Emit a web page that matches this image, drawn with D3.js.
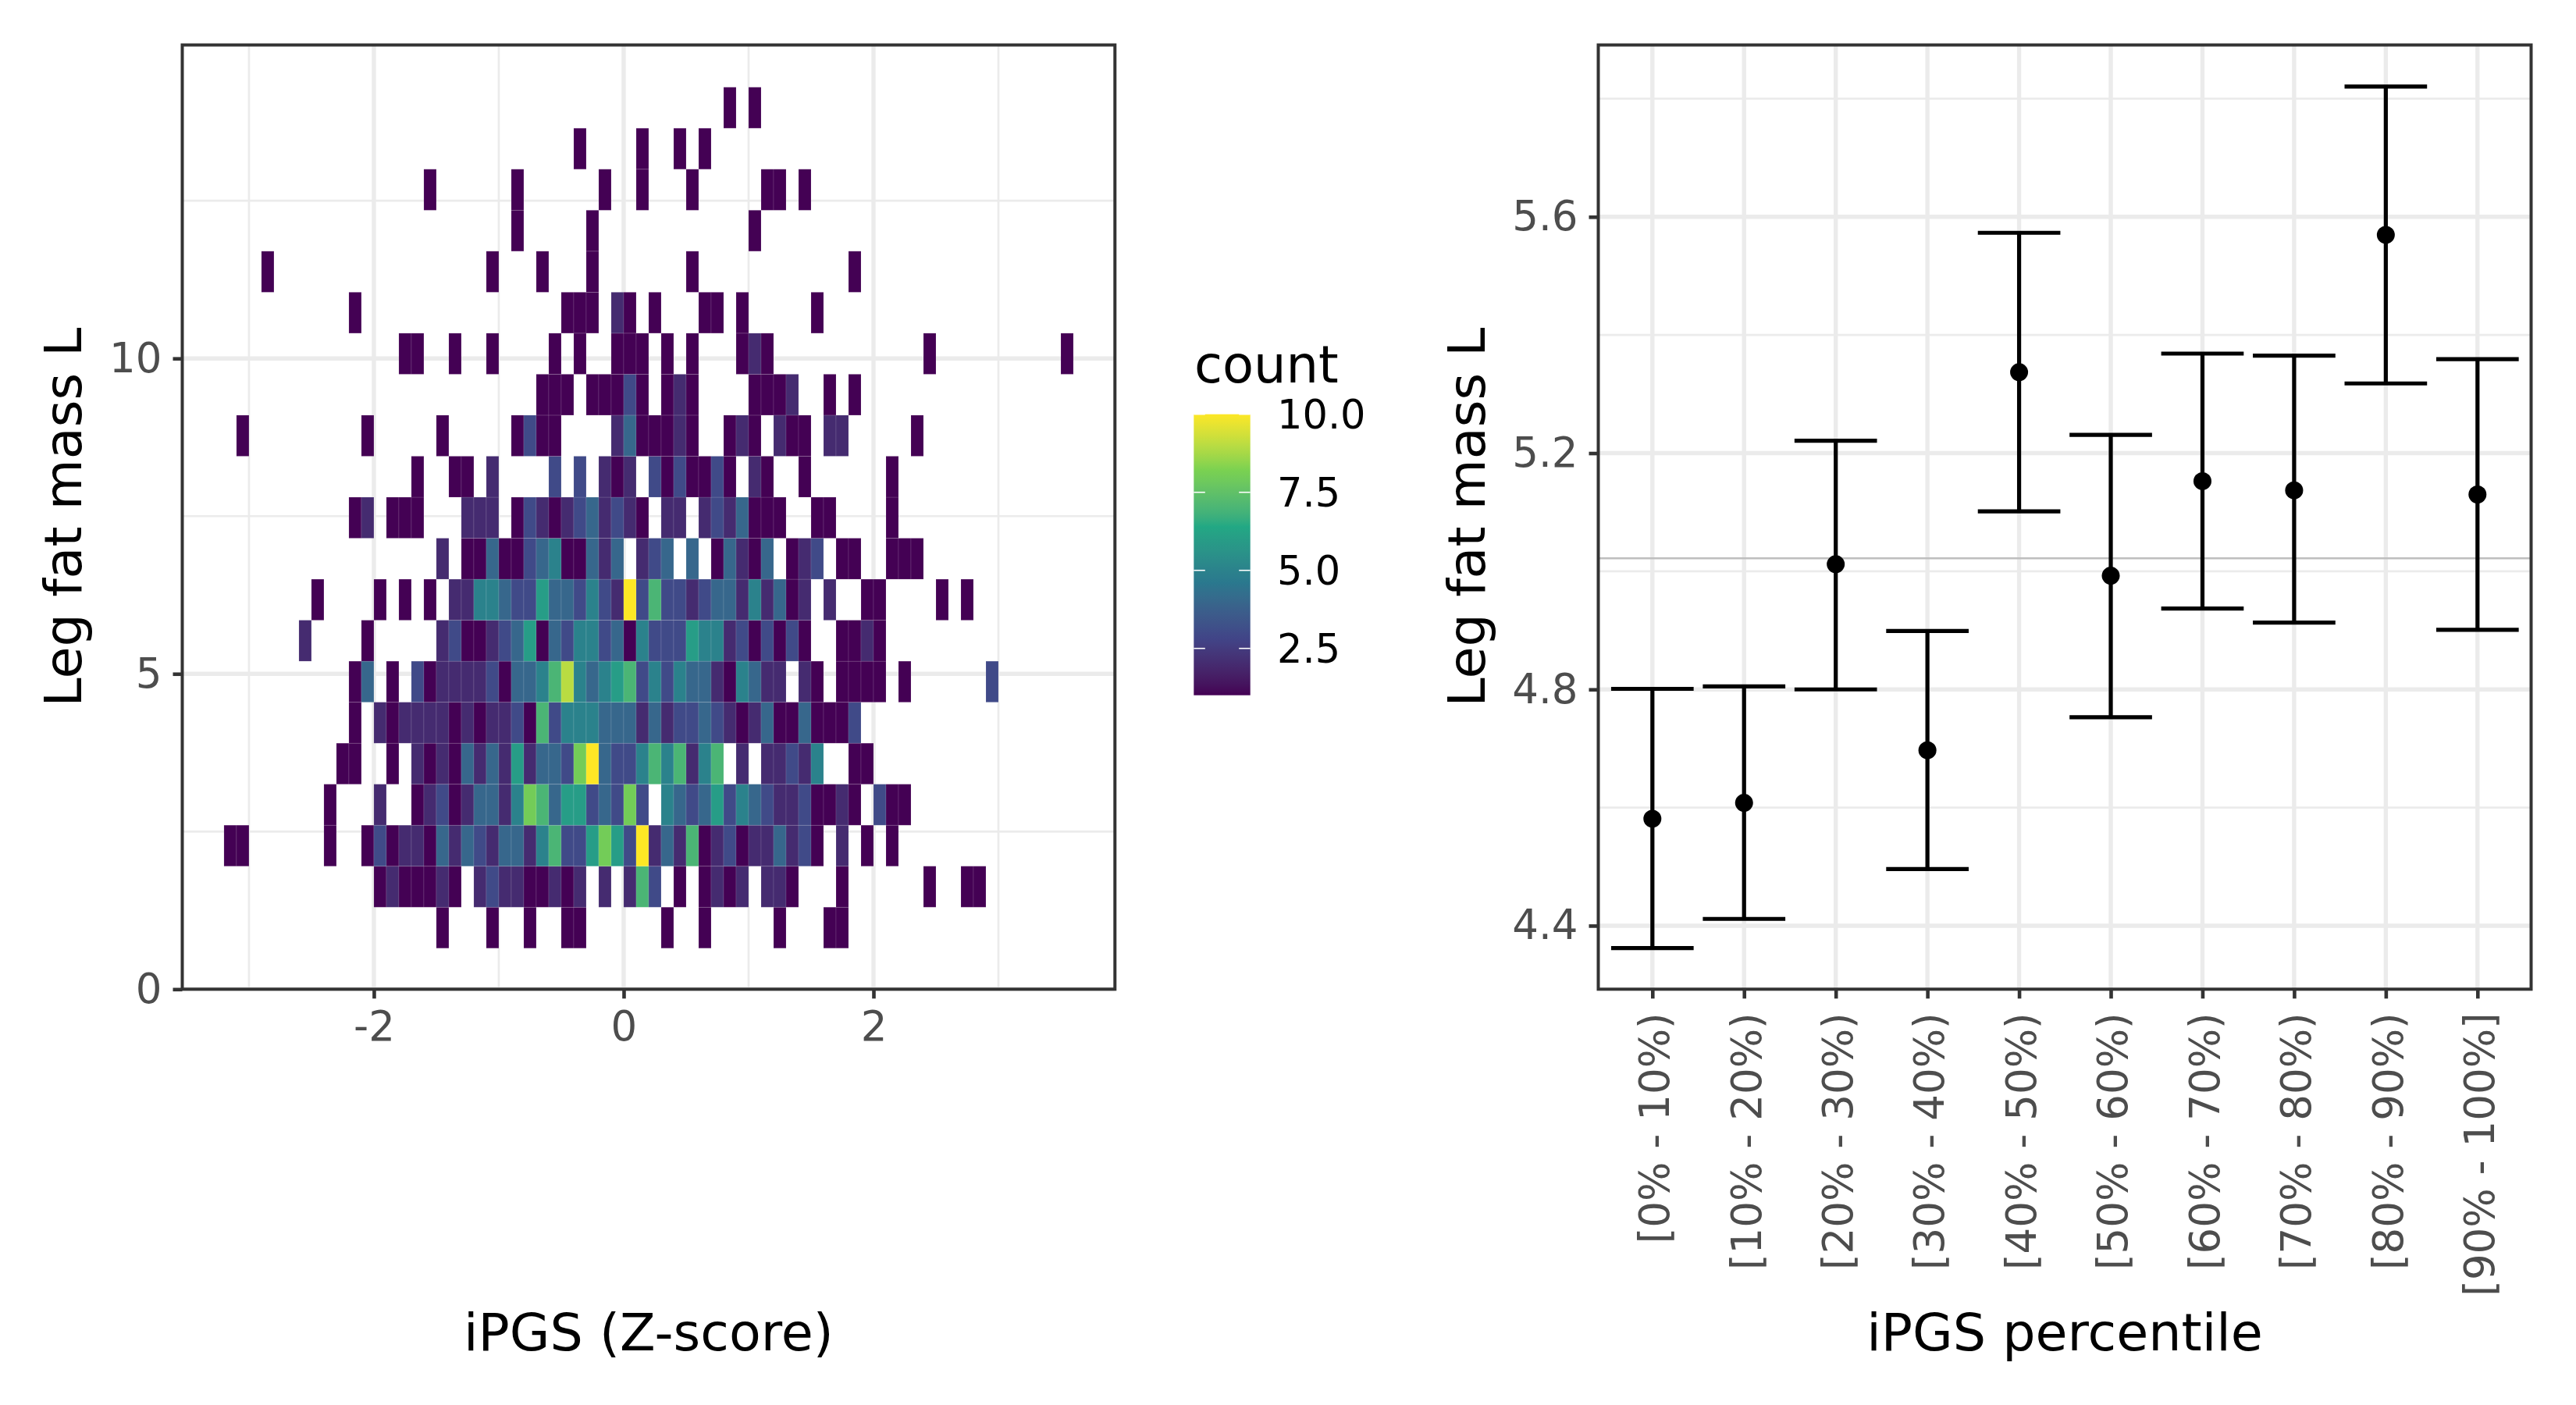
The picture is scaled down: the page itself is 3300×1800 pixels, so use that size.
<!DOCTYPE html>
<html>
<head>
<meta charset="utf-8">
<script src="https://cdn.jsdelivr.net/npm/d3@7"></script>
<style>
html,body{margin:0;padding:0;background:#fff;}
svg{display:block;}
text{font-family:"DejaVu Sans",sans-serif;}
</style>
</head>
<body>
<svg id="chart" width="3300" height="1800"></svg>
<script>
// ---------- DATA: heatmap, [iPGS bin start in tenths, count] per Leg-fat-mass bin ----------
const binWidthX = 0.1;
const binWidthY = 0.65;
const row1  = [[-15,1],[-11,1],[-8,1],[-5,1],[-4,1],[3,1],[6,1],[12,1],[16,1],[17,1]];
const row2  = [[-20,1],[-19,2],[-18,1],[-17,1],[-16,1],[-15,2],[-14,1],[-12,2],[-11,3],[-10,2],[-9,2],[-8,1],[-7,1],[-6,2],[-5,1],[-4,2],[-2,2],[0,2],[1,7],[2,3],[4,1],[6,1],[7,2],[8,1],[9,2],[11,2],[12,2],[13,1],[17,1],[24,1],[27,1],[28,1]];
const row3  = [[-32,1],[-31,1],[-24,1],[-21,1],[-20,3],[-19,1],[-18,2],[-17,2],[-16,1],[-15,4],[-14,2],[-13,4],[-12,3],[-11,2],[-10,4],[-9,4],[-8,2],[-7,5],[-6,7],[-5,3],[-4,3],[-3,6],[-2,8],[-1,6],[0,3],[1,10],[2,2],[3,4],[4,2],[5,7],[6,1],[7,2],[8,3],[9,1],[10,2],[11,2],[12,4],[13,2],[14,3],[15,1],[17,2],[19,1],[21,1]];
const row4  = [[-24,1],[-20,2],[-17,1],[-16,2],[-15,3],[-14,1],[-13,2],[-12,4],[-11,4],[-10,2],[-9,5],[-8,8],[-7,7],[-6,4],[-5,6],[-4,6],[-3,3],[-2,4],[-1,3],[0,8],[1,3],[3,5],[4,4],[5,3],[6,4],[7,6],[8,3],[9,5],[10,4],[11,3],[12,2],[13,2],[14,3],[15,1],[16,1],[17,2],[18,1],[20,3],[21,1],[22,1]];
const row5  = [[-23,1],[-22,1],[-19,1],[-17,2],[-16,1],[-15,2],[-14,1],[-13,4],[-12,2],[-11,4],[-10,2],[-9,6],[-8,2],[-7,4],[-6,4],[-5,3],[-4,8],[-3,10],[-2,4],[-1,3],[0,3],[1,5],[2,7],[3,5],[4,7],[5,2],[6,5],[7,7],[9,2],[11,2],[12,2],[13,3],[14,2],[15,5],[18,1],[19,1]];
const row6  = [[-22,1],[-20,2],[-19,1],[-18,2],[-17,2],[-16,2],[-15,2],[-14,1],[-13,2],[-12,1],[-11,2],[-10,2],[-9,3],[-8,1],[-7,7],[-6,3],[-5,5],[-4,5],[-3,5],[-2,4],[-1,4],[0,4],[1,2],[2,4],[3,2],[4,3],[5,3],[6,4],[7,3],[8,2],[9,1],[10,2],[11,4],[12,1],[13,1],[14,4],[15,1],[16,1],[17,1],[18,3]];
const row7  = [[-22,1],[-21,4],[-19,1],[-17,3],[-16,1],[-15,2],[-14,2],[-13,2],[-12,2],[-11,3],[-10,1],[-9,4],[-8,4],[-7,5],[-6,7],[-5,9],[-4,5],[-3,4],[-2,5],[-1,6],[0,7],[1,3],[2,5],[3,3],[4,5],[5,4],[6,4],[7,2],[8,1],[9,5],[10,4],[11,2],[12,2],[14,2],[15,1],[17,1],[18,1],[19,1],[20,1],[22,1],[29,3]];
const row8  = [[-26,2],[-21,1],[-15,2],[-14,3],[-13,1],[-12,1],[-11,2],[-10,3],[-9,4],[-8,6],[-7,1],[-6,4],[-5,3],[-4,5],[-3,5],[-2,3],[-1,4],[0,1],[1,5],[2,3],[3,3],[4,3],[5,6],[6,5],[7,5],[8,2],[9,3],[10,1],[11,3],[12,1],[13,3],[14,1],[17,1],[18,1],[19,2],[20,1]];
const row9  = [[-25,1],[-20,1],[-18,1],[-16,1],[-14,2],[-13,2],[-12,5],[-11,5],[-10,4],[-9,3],[-8,3],[-7,6],[-6,4],[-5,4],[-4,3],[-3,5],[-2,3],[-1,2],[0,10],[1,3],[2,7],[3,3],[4,3],[5,2],[6,3],[7,4],[8,4],[9,2],[10,5],[11,2],[12,4],[13,1],[14,2],[16,2],[19,1],[20,1],[25,1],[27,1]];
const row10 = [[-15,2],[-13,1],[-12,1],[-11,4],[-10,1],[-9,1],[-8,3],[-7,4],[-6,5],[-5,1],[-4,1],[-3,4],[-2,2],[-1,4],[1,2],[2,3],[3,4],[5,4],[7,1],[8,4],[9,2],[10,1],[11,4],[13,1],[14,2],[15,3],[17,1],[18,1],[21,1],[22,1],[23,1]];
const row11 = [[-22,1],[-21,2],[-19,1],[-18,1],[-17,1],[-13,2],[-12,2],[-11,2],[-9,1],[-8,3],[-7,2],[-6,1],[-5,2],[-4,3],[-3,4],[-2,2],[-1,3],[0,2],[1,1],[3,2],[4,2],[6,2],[7,3],[8,2],[9,4],[10,1],[11,1],[12,1],[15,1],[16,1],[21,1]];
const row12 = [[-17,1],[-14,1],[-13,1],[-11,2],[-6,3],[-4,3],[-2,2],[-1,1],[0,2],[2,3],[3,1],[4,3],[5,1],[6,1],[7,3],[8,1],[10,2],[11,1],[14,1],[21,1]];
const row13 = [[-31,1],[-21,1],[-15,1],[-9,1],[-8,3],[-7,1],[-6,1],[-1,2],[0,4],[1,1],[2,1],[3,1],[4,2],[5,1],[8,1],[9,2],[10,1],[12,2],[13,1],[14,1],[16,2],[17,2],[23,1]];
const row14 = [[-7,1],[-6,1],[-5,1],[-3,1],[-2,1],[-1,1],[0,3],[1,1],[3,1],[4,2],[5,1],[10,1],[11,1],[12,1],[13,2],[16,1],[18,1]];
const row15 = [[-18,1],[-17,1],[-14,1],[-11,1],[-6,1],[-4,1],[-1,1],[0,1],[1,1],[3,1],[5,1],[9,1],[10,2],[11,1],[24,1],[35,1]];
const row16 = [[-22,1],[-5,1],[-4,1],[-3,1],[-1,2],[0,1],[2,1],[6,1],[7,1],[9,1],[15,1]];
const row17 = [[-29,1],[-11,1],[-7,1],[-3,1],[5,1],[18,1]];
const row18 = [[-9,1],[-3,1],[10,1]];
const row19 = [[-16,1],[-9,1],[-2,1],[1,1],[5,1],[11,1],[12,1],[14,1]];
const row20 = [[-4,1],[1,1],[4,1],[6,1]];
const row21 = [[8,1],[10,1]];
const heatRows = [row1,row2,row3,row4,row5,row6,row7,row8,row9,row10,row11,row12,row13,row14,row15,row16,row17,row18,row19,row20,row21];

// ---------- DATA: percentile panel ----------
const percentileLabels = ["[0% - 10%)","[10% - 20%)","[20% - 30%)","[30% - 40%)","[40% - 50%)","[50% - 60%)","[60% - 70%)","[70% - 80%)","[80% - 90%)","[90% - 100%]"];
const meanValues  = [4.581,4.608,5.012,4.697,5.337,4.9925,5.1525,5.137,5.5695,5.13];
const lowerValues = [4.362,4.4115,4.80,4.496,5.1015,4.753,4.937,4.913,5.318,4.901];
const upperValues = [4.801,4.805,5.221,4.899,5.573,5.231,5.3685,5.365,5.8206,5.359];
const overallMean = 5.022;

// ---------- DATA: ticks ----------
const heatXTicks = [-2,0,2];
const heatXMinor = [-3,-1,1,3];
const heatYTicks = [0,5,10];
const heatYMinor = [2.5,7.5,12.5];
const pctYTicks = [4.4,4.8,5.2,5.6];
const pctYMinor = [4.6,5.0,5.4,5.8];
const legendTicks = [2.5,5.0,7.5,10.0];
const viridisStops = ["#440154","#414487","#2A788E","#22A884","#7AD151","#FDE725"];

// ---------- layout ----------
const svg = d3.select("#chart");
const P1 = {l:233.5, r:1428.3, t:57.6, b:1267.3};
const P2 = {l:2047.5, r:3242.5, t:57.6, b:1267.3};
const gridCol = "#ebebeb", borderCol = "#333333", tickTextCol = "#4d4d4d";
const majorW = 5.4, minorW = 2.7, tickW = 4.6, tickLen = 12;
const fsTitle = 66.7, fsTick = 53;

const x1 = d3.scaleLinear().domain([-3.534,3.933]).range([P1.l,P1.r]);
const y1 = d3.scaleLinear().domain([0,14.97]).range([P1.b,P1.t]);
const x2 = d3.scalePoint().domain(percentileLabels).range([2116.8,3173.8]);
const y2 = d3.scaleLinear().domain([4.2925,5.891]).range([P2.b,P2.t]);

const stopDomain = d3.range(viridisStops.length).map(i => 1 + i*9/(viridisStops.length-1));
const colour = d3.scaleLinear().domain(stopDomain).range(viridisStops).interpolate(d3.interpolateLab);

function grid(g, P, xs, xMajor, xMinor, ys, yMajor, yMinor){
  const line = (vals, fn, w) => vals.forEach(v => {
    const p = fn(v);
    g.append("line").attr("x1",p.x1).attr("x2",p.x2).attr("y1",p.y1).attr("y2",p.y2)
     .attr("stroke",gridCol).attr("stroke-width",w);
  });
  const vert = v => ({x1:xs(v),x2:xs(v),y1:P.t,y2:P.b});
  const hor = v => ({x1:P.l,x2:P.r,y1:ys(v),y2:ys(v)});
  line(xMinor, vert, minorW);
  line(yMinor, hor, minorW);
  line(xMajor, vert, majorW);
  line(yMajor, hor, majorW);
}
function styleAxis(g){
  g.select(".domain").remove();
  g.selectAll(".tick line").attr("stroke",borderCol).attr("stroke-width",tickW);
  g.selectAll(".tick text").attr("fill",tickTextCol).style("font-size",fsTick+"px").style("font-family",'"DejaVu Sans"');
}
function border(P){
  svg.append("rect").attr("x",P.l).attr("y",P.t).attr("width",P.r-P.l).attr("height",P.b-P.t)
    .attr("fill","none").attr("stroke",borderCol).attr("stroke-width",4);
}

// ---------- left panel ----------
const g1 = svg.append("g");
grid(g1,P1,x1,heatXTicks,heatXMinor,y1,heatYTicks,heatYMinor);
const cells = heatRows.flatMap((row,i) => row.map(([bin,count]) => ({
  x: bin*binWidthX, y: (i+1)*binWidthY, count
})));
g1.selectAll("rect.cell").data(cells).join("rect").attr("class","cell")
  .attr("x",d=>x1(d.x)).attr("width",d=>x1(d.x+binWidthX)-x1(d.x))
  .attr("y",d=>y1(d.y+binWidthY)).attr("height",d=>y1(d.y)-y1(d.y+binWidthY))
  .attr("fill",d=>colour(d.count))
  .attr("stroke","#fff").attr("stroke-opacity",0.12).attr("stroke-width",1);
border(P1);

const ax1 = svg.append("g").attr("transform",`translate(0,${P1.b})`)
  .call(d3.axisBottom(x1).tickValues(heatXTicks).tickFormat(d3.format("d")).tickSize(tickLen).tickPadding(16));
styleAxis(ax1);
ax1.selectAll(".tick text").text(d=>String(d));
const ay1 = svg.append("g").attr("transform",`translate(${P1.l},0)`)
  .call(d3.axisLeft(y1).tickValues(heatYTicks).tickFormat(d3.format("d")).tickSize(tickLen).tickPadding(14));
styleAxis(ay1);

svg.append("text").attr("x",(P1.l+P1.r)/2).attr("y",1730).attr("text-anchor","middle")
  .style("font-size",fsTitle+"px").text("iPGS (Z-score)");
svg.append("text").attr("transform",`translate(104,${(P1.t+P1.b)/2}) rotate(-90)`).attr("text-anchor","middle")
  .style("font-size",fsTitle+"px").text("Leg fat mass L");

// ---------- legend ----------
const legY = d3.scaleLinear().domain([1,10]).range([890.7,530.7]);
const defs = svg.append("defs");
const grad = defs.append("linearGradient").attr("id","legendGrad").attr("x1",0).attr("x2",0).attr("y1",1).attr("y2",0);
d3.range(0,1.0001,0.02).forEach(t => grad.append("stop").attr("offset",t).attr("stop-color",colour(1+9*t)));
const legL = 1529.3, legR = 1601.7;
svg.append("rect").attr("x",legL).attr("y",legY(10)).attr("width",legR-legL).attr("height",legY(1)-legY(10)).attr("fill","url(#legendGrad)");
legendTicks.forEach(v => {
  [[legL,legL+14.5],[legR-14.5,legR]].forEach(([a,b]) => {
    svg.append("line").attr("x1",a).attr("x2",b).attr("y1",legY(v)).attr("y2",legY(v)).attr("stroke","#fff").attr("stroke-width",1.6);
  });
  svg.append("text").attr("x",1636).attr("y",legY(v)+18).style("font-size","51px").attr("fill","#000").text(d3.format(".1f")(v));
});
svg.append("text").attr("x",1530).attr("y",490).style("font-size","65.5px").attr("fill","#000").text("count");

// ---------- right panel ----------
const g2 = svg.append("g");
grid(g2,P2,x2,percentileLabels,[],y2,pctYTicks,pctYMinor);
g2.append("line").attr("x1",P2.l).attr("x2",P2.r).attr("y1",y2(overallMean)).attr("y2",y2(overallMean))
  .attr("stroke","#bebebe").attr("stroke-width",2.6);

const capHalf = x2.step()*0.45;
const ebW = 5.2;
const ebData = percentileLabels.map((c,i)=>({c,m:meanValues[i],lo:lowerValues[i],hi:upperValues[i]}));
const eb = g2.selectAll("g.eb").data(ebData).join("g").attr("class","eb");
eb.append("line").attr("x1",d=>x2(d.c)).attr("x2",d=>x2(d.c)).attr("y1",d=>y2(d.lo)).attr("y2",d=>y2(d.hi))
  .attr("stroke","#000").attr("stroke-width",ebW);
eb.append("line").attr("x1",d=>x2(d.c)-capHalf).attr("x2",d=>x2(d.c)+capHalf).attr("y1",d=>y2(d.lo)).attr("y2",d=>y2(d.lo))
  .attr("stroke","#000").attr("stroke-width",ebW);
eb.append("line").attr("x1",d=>x2(d.c)-capHalf).attr("x2",d=>x2(d.c)+capHalf).attr("y1",d=>y2(d.hi)).attr("y2",d=>y2(d.hi))
  .attr("stroke","#000").attr("stroke-width",ebW);
eb.append("circle").attr("cx",d=>x2(d.c)).attr("cy",d=>y2(d.m)).attr("r",11.5).attr("fill","#000");
border(P2);

const ax2 = svg.append("g").attr("transform",`translate(0,${P2.b})`)
  .call(d3.axisBottom(x2).tickSize(tickLen).tickPadding(0));
styleAxis(ax2);
ax2.selectAll(".tick text")
  .attr("transform","translate(2,30) rotate(-90)")
  .attr("x",0).attr("y",0).attr("dy","0.355em").attr("text-anchor","end");
const ay2 = svg.append("g").attr("transform",`translate(${P2.l},0)`)
  .call(d3.axisLeft(y2).tickValues(pctYTicks).tickFormat(d3.format(".1f")).tickSize(tickLen).tickPadding(14));
styleAxis(ay2);

svg.append("text").attr("x",(P2.l+P2.r)/2).attr("y",1730).attr("text-anchor","middle")
  .style("font-size",fsTitle+"px").text("iPGS percentile");
svg.append("text").attr("transform",`translate(1902,${(P2.t+P2.b)/2}) rotate(-90)`).attr("text-anchor","middle")
  .style("font-size",fsTitle+"px").text("Leg fat mass L");
</script>
</body>
</html>
